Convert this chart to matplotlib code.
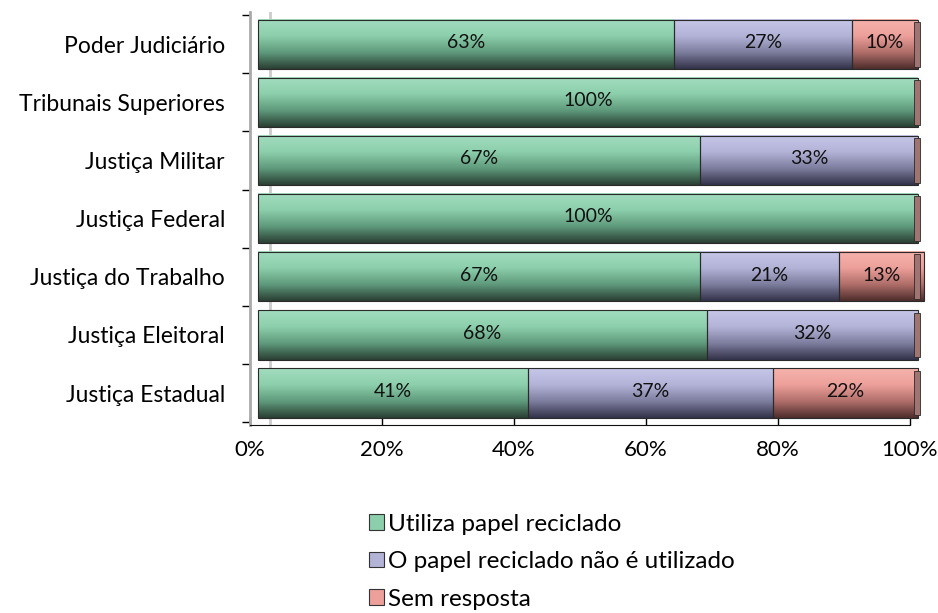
import numpy as np
import matplotlib.pyplot as plt
from matplotlib.colors import LinearSegmentedColormap
from matplotlib.patches import Patch

plt.rcParams['font.family'] = ['Lato', 'DejaVu Sans']

categorias = ['Justiça Estadual', 'Justiça Eleitoral', 'Justiça do Trabalho',
              'Justiça Federal', 'Justiça Militar', 'Tribunais Superiores',
              'Poder Judiciário']
utiliza = [41, 68, 67, 100, 67, 100, 63]
nao_utiliza = [37, 32, 21, 0, 33, 0, 27]
sem_resposta = [22, 0, 13, 0, 0, 0, 10]

series = [utiliza, nao_utiliza, sem_resposta]
nomes = ['Utiliza papel reciclado', 'O papel reciclado não é utilizado', 'Sem resposta']
# top, middle, bottom shade of each cylinder
grads = [['#a2dcbf', '#8ccfac', '#5f9a7c', '#2a4034'],
         ['#c6c6e8', '#b3b3d8', '#7d7d9e', '#33334a'],
         ['#f6b2ac', '#eda09a', '#b06e6a', '#4e2e2c']]
solid = ['#8ccfac', '#b3b3d8', '#eda09a']

fig = plt.figure(figsize=(9.38, 6.13), dpi=100)
ax = fig.add_axes([0.2665, 0.3067, 0.7035, 0.6733])

h = 0.85
depth = 1.2  # 3d offset of the bars
y = np.arange(len(categorias))
left = np.zeros(len(categorias))
for s, vals in enumerate(series):
    cmap = LinearSegmentedColormap.from_list('g%d' % s, grads[s][::-1])
    grad = np.linspace(0, 1, 64).reshape(-1, 1)
    for i, v in enumerate(vals):
        if v == 0:
            continue
        l = left[i] + depth
        im = ax.imshow(grad, cmap=cmap, aspect='auto', origin='lower',
                       extent=(l, l + v, y[i] - h / 2, y[i] + h / 2), zorder=2)
        im.set_clip_on(False)
        ax.add_patch(plt.Rectangle((l, y[i] - h / 2), v, h, fill=False,
                                   edgecolor='#2a2a2a', lw=0.8, zorder=3))
        ax.text(l + v / 2, y[i] + 0.03, '%d%%' % v, ha='center', va='center',
                fontsize=14, color='#111111', zorder=4)
    left = left + np.array(vals)

# end caps of each bar
for i in range(len(categorias)):
    ax.add_patch(plt.Rectangle((100 + depth - 0.6, y[i] - h / 2 + 0.04), 0.9, h - 0.08,
                               facecolor='#a07470', edgecolor='#2a2a2a', lw=0.6, zorder=4))

ax.set_xlim(0, 100)
ax.set_ylim(-0.55, 6.55)
ax.set_xticks([0, 20, 40, 60, 80, 100])
ax.set_xticklabels(['0%', '20%', '40%', '60%', '80%', '100%'], fontsize=16)
ax.set_yticks(np.arange(-0.5, 7, 1), minor=False)
ax.set_yticklabels([])
ax.set_yticks(y, minor=True)
ax.set_yticklabels(categorias, minor=True, fontsize=16.5)
ax.tick_params(axis='y', which='minor', length=0, pad=18)
ax.tick_params(axis='y', which='major', length=6, direction='out', width=1)
ax.tick_params(axis='x', length=6, direction='in', width=1, pad=11)
for sp in ['top', 'right']:
    ax.spines[sp].set_visible(False)
ax.spines['left'].set_color('#aaaaaa')
ax.spines['left'].set_linewidth(2)
ax.spines['bottom'].set_color('#111111')
ax.axvline(3.0, color='#cccccc', lw=2, zorder=1)
for a in ax.patches:
    a.set_clip_on(False)

handles = [Patch(facecolor=solid[k], edgecolor='#333333', lw=0.8) for k in range(3)]
fig.legend(handles, nomes, loc='upper left', bbox_to_anchor=(0.383, 0.178),
           frameon=False, fontsize=17.5, handlelength=0.6, handleheight=0.6,
           handletextpad=0.2, labelspacing=0.68, borderaxespad=0)

fig.savefig('out.png', dpi=100)
